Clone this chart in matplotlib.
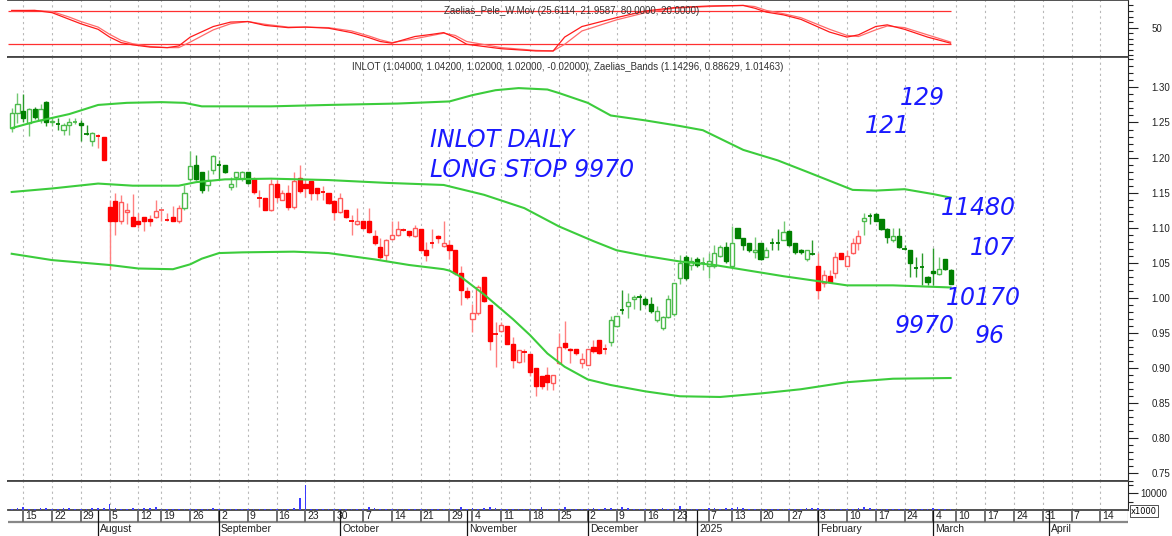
import matplotlib
matplotlib.use("Agg")
import matplotlib.pyplot as plt
from matplotlib.patches import Rectangle
from matplotlib.ticker import FixedLocator, MultipleLocator, FormatStrFormatter
import pandas as pd

plt.rcParams['font.family'] = ['Liberation Sans', 'DejaVu Sans']

# trading days (ATHEX holidays removed), future days are plain weekdays
holidays = ['2024-08-15', '2024-10-28', '2024-12-24', '2024-12-25', '2024-12-26',
            '2025-01-01', '2025-01-06', '2025-03-03']
dates = pd.bdate_range('2024-07-11', '2025-03-07')
dates = dates[~dates.isin(pd.to_datetime(holidays))]
future = pd.bdate_range('2025-03-10', '2025-04-25')
all_days = dates.append(future)

opens = [1.242, 1.264, 1.266, 1.249, 1.269, 1.254, 1.279, 1.250, 1.249, 1.240,
         1.247, 1.250, 1.249, 1.235, 1.223, 1.232, 1.230, 1.130, 1.138, 1.109,
         1.122, 1.116, 1.110, 1.115, 1.113, 1.115, 1.125, 1.112, 1.115, 1.109,
         1.128, 1.170, 1.190, 1.179, 1.161, 1.183, 1.190, 1.189, 1.158, 1.173,
         1.171, 1.179, 1.169, 1.144, 1.142, 1.125, 1.163, 1.140, 1.149, 1.129,
         1.171, 1.163, 1.166, 1.156, 1.152, 1.150, 1.138, 1.122, 1.125, 1.111,
         1.106, 1.109, 1.109, 1.088, 1.072, 1.061, 1.084, 1.090, 1.097, 1.095,
         1.088, 1.098, 1.069, 1.079, 1.088, 1.074, 1.075, 1.069, 1.035, 1.010,
         0.970, 0.978, 1.030, 0.990, 0.950, 0.953, 0.960, 0.935, 0.909, 0.924,
         0.920, 0.900, 0.889, 0.890, 0.879, 0.907, 0.936, 0.928, 0.928, 0.908,
         0.905, 0.930, 0.940, 0.928, 0.938, 0.960, 0.984, 0.989, 0.999, 1.002,
         0.999, 0.991, 0.968, 0.957, 0.973, 0.977, 1.028, 1.058, 1.047, 1.056,
         1.049, 1.045, 1.045, 1.060, 1.072, 1.046, 1.099, 1.085, 1.079, 1.065,
         1.078, 1.059, 1.078, 1.080, 1.083, 1.095, 1.079, 1.069, 1.056, 1.063,
         1.045, 1.022, 1.031, 1.035, 1.064, 1.046, 1.064, 1.079, 1.109, 1.117,
         1.119, 1.112, 1.098, 1.082, 1.088, 1.071, 1.069, 1.044, 1.044, 1.030,
         1.039, 1.034, 1.055, 1.040]
highs = [1.270, 1.292, 1.291, 1.270, 1.272, 1.277, 1.280, 1.258, 1.257, 1.249,
         1.256, 1.256, 1.254, 1.246, 1.237, 1.233, 1.230, 1.139, 1.149, 1.147,
         1.135, 1.148, 1.121, 1.115, 1.118, 1.140, 1.126, 1.121, 1.131, 1.132,
         1.161, 1.209, 1.204, 1.180, 1.182, 1.203, 1.196, 1.190, 1.173, 1.180,
         1.181, 1.180, 1.173, 1.154, 1.142, 1.169, 1.168, 1.154, 1.161, 1.180,
         1.189, 1.170, 1.166, 1.156, 1.159, 1.150, 1.140, 1.149, 1.125, 1.118,
         1.128, 1.109, 1.128, 1.097, 1.086, 1.084, 1.110, 1.110, 1.100, 1.096,
         1.104, 1.098, 1.080, 1.098, 1.090, 1.109, 1.083, 1.069, 1.045, 1.016,
         0.992, 1.019, 1.030, 0.990, 0.966, 0.966, 0.960, 0.945, 0.926, 0.928,
         0.920, 0.900, 0.889, 0.902, 0.890, 0.950, 0.967, 0.929, 0.928, 0.921,
         0.928, 0.940, 0.940, 0.935, 0.974, 0.975, 1.011, 1.007, 1.004, 1.006,
         1.002, 1.002, 0.989, 0.975, 1.004, 1.021, 1.061, 1.061, 1.058, 1.058,
         1.059, 1.064, 1.076, 1.075, 1.080, 1.102, 1.100, 1.086, 1.079, 1.087,
         1.079, 1.073, 1.085, 1.098, 1.109, 1.096, 1.079, 1.070, 1.068, 1.082,
         1.064, 1.040, 1.040, 1.065, 1.064, 1.068, 1.085, 1.097, 1.121, 1.121,
         1.121, 1.113, 1.099, 1.099, 1.099, 1.076, 1.069, 1.059, 1.064, 1.031,
         1.071, 1.059, 1.055, 1.042]
lows = [1.237, 1.249, 1.250, 1.231, 1.255, 1.249, 1.245, 1.245, 1.239, 1.232,
        1.232, 1.248, 1.223, 1.232, 1.216, 1.213, 1.197, 1.042, 1.090, 1.105,
        1.106, 1.102, 1.099, 1.096, 1.103, 1.114, 1.110, 1.110, 1.109, 1.107,
        1.125, 1.166, 1.168, 1.150, 1.152, 1.177, 1.170, 1.178, 1.154, 1.158,
        1.166, 1.163, 1.148, 1.130, 1.125, 1.124, 1.137, 1.139, 1.125, 1.127,
        1.150, 1.144, 1.140, 1.140, 1.140, 1.134, 1.111, 1.121, 1.114, 1.090,
        1.104, 1.098, 1.093, 1.075, 1.055, 1.052, 1.082, 1.088, 1.095, 1.087,
        1.087, 1.067, 1.052, 1.071, 1.078, 1.072, 1.056, 1.033, 0.990, 0.998,
        0.952, 0.976, 0.994, 0.926, 0.902, 0.952, 0.934, 0.900, 0.908, 0.909,
        0.889, 0.861, 0.870, 0.869, 0.869, 0.906, 0.928, 0.907, 0.919, 0.900,
        0.904, 0.922, 0.920, 0.920, 0.932, 0.958, 0.977, 0.971, 0.985, 0.983,
        0.988, 0.978, 0.966, 0.955, 0.971, 0.975, 1.020, 1.026, 1.040, 1.044,
        1.040, 1.028, 1.043, 1.059, 1.050, 1.045, 1.085, 1.068, 1.066, 1.057,
        1.054, 1.058, 1.068, 1.069, 1.082, 1.074, 1.063, 1.062, 1.052, 1.061,
        0.998, 1.016, 1.021, 1.028, 1.055, 1.045, 1.063, 1.069, 1.090, 1.105,
        1.109, 1.097, 1.078, 1.080, 1.071, 1.068, 1.030, 1.030, 1.019, 1.019,
        1.019, 1.033, 1.040, 1.020]
closes = [1.263, 1.276, 1.257, 1.269, 1.258, 1.269, 1.250, 1.252, 1.248, 1.247,
          1.250, 1.251, 1.247, 1.234, 1.235, 1.231, 1.197, 1.109, 1.109, 1.137,
          1.126, 1.103, 1.106, 1.110, 1.109, 1.124, 1.126, 1.111, 1.110, 1.128,
          1.149, 1.188, 1.170, 1.154, 1.168, 1.202, 1.190, 1.180, 1.162, 1.180,
          1.180, 1.164, 1.151, 1.143, 1.125, 1.163, 1.144, 1.149, 1.129, 1.167,
          1.153, 1.156, 1.150, 1.150, 1.151, 1.136, 1.122, 1.143, 1.116, 1.110,
          1.110, 1.099, 1.094, 1.079, 1.058, 1.083, 1.090, 1.098, 1.097, 1.090,
          1.099, 1.069, 1.061, 1.079, 1.085, 1.079, 1.069, 1.035, 1.011, 1.001,
          0.978, 1.015, 0.996, 0.939, 0.949, 0.961, 0.935, 0.911, 0.926, 0.923,
          0.894, 0.875, 0.875, 0.881, 0.890, 0.930, 0.930, 0.926, 0.921, 0.913,
          0.928, 0.924, 0.921, 0.927, 0.968, 0.974, 0.983, 0.994, 1.002, 1.001,
          0.991, 0.981, 0.981, 0.973, 0.998, 1.021, 1.050, 1.029, 1.052, 1.047,
          1.050, 1.052, 1.064, 1.072, 1.052, 1.078, 1.086, 1.076, 1.069, 1.069,
          1.055, 1.069, 1.078, 1.079, 1.094, 1.075, 1.065, 1.065, 1.068, 1.062,
          1.012, 1.033, 1.023, 1.058, 1.056, 1.060, 1.079, 1.088, 1.114, 1.117,
          1.110, 1.098, 1.087, 1.088, 1.072, 1.070, 1.050, 1.043, 1.044, 1.023,
          1.035, 1.041, 1.042, 1.020]
# trend colour of each candle: g = green, r = red
trend = ('g' * 15 + 'r' * 15 + 'g' * 12 + 'r' * 62 + 'g' * 36 + 'r' * 8 + 'g' * 16)

volume = [300, 1200, 1500, 300, 300, 1200, 1300, 300, 300, 1000,
          1100, 300, 300, 300, 1000, 1200, 1300, 3800, 1200, 300,
          300, 1000, 300, 1000, 1300, 1600, 300, 700, 300, 300,
          300, 700, 800, 300, 300, 1300, 300, 300, 300, 300,
          300, 300, 300, 300, 300, 800, 300, 300, 300, 1200,
          7200, 14500, 300, 300, 800, 300, 300, 300, 300, 800,
          300, 300, 1600, 900, 300, 300, 300, 300, 300, 300,
          300, 800, 300, 300, 300, 300, 300, 300, 1700, 300,
          1000, 300, 1400, 1700, 900, 300, 300, 300, 300, 300,
          300, 300, 1800, 300, 300, 300, 1500, 300, 300, 300,
          300, 900, 300, 900, 1000, 300, 1500, 1000, 700, 300,
          300, 300, 300, 900, 800, 300, 2200, 300, 300, 300,
          300, 900, 1000, 300, 1100, 900, 1800, 900, 300, 800,
          300, 300, 300, 300, 800, 300, 300, 300, 1000, 1100,
          1000, 300, 300, 800, 300, 300, 300, 900, 1900, 1000,
          300, 300, 800, 300, 300, 300, 800, 300, 700, 300,
          900, 800, 300, 300]

# Zaelias bands, read at a few candle positions
band_idx = [0, 4, 10, 15, 20, 26, 30, 33, 45, 55, 67, 76, 80, 84, 88, 93, 95,
            100, 104, 110, 116, 120, 127, 133, 138, 146, 150, 155, 160, 163]
band_up = [1.242, 1.251, 1.262, 1.275, 1.278, 1.279, 1.278, 1.273, 1.273, 1.275,
           1.277, 1.280, 1.289, 1.296, 1.299, 1.297, 1.292, 1.278, 1.260, 1.253,
           1.245, 1.239, 1.211, 1.196, 1.180, 1.154, 1.153, 1.155, 1.148, 1.143]
mid_idx = [0, 7, 15, 21, 29, 32, 37, 45, 55, 65, 75, 82, 89, 95, 101, 105, 110,
           116, 122, 134, 140, 145, 153, 163]
band_mid = [1.151, 1.156, 1.163, 1.160, 1.160, 1.165, 1.169, 1.170, 1.168, 1.164,
            1.161, 1.147, 1.128, 1.102, 1.081, 1.068, 1.060, 1.052, 1.047, 1.031,
            1.024, 1.018, 1.018, 1.015]
low_idx = [0, 7, 17, 22, 28, 31, 33, 36, 40, 49, 55, 63, 69, 75, 76, 78, 82, 87,
           90, 93, 96, 100, 104, 110, 116, 123, 130, 137, 145, 153, 163]
band_low = [1.063, 1.054, 1.047, 1.042, 1.041, 1.048, 1.056, 1.064, 1.065, 1.066,
            1.064, 1.055, 1.047, 1.041, 1.039, 1.030, 1.005, 0.970, 0.947, 0.921,
            0.902, 0.884, 0.876, 0.867, 0.860, 0.859, 0.864, 0.870, 0.880, 0.885,
            0.886]

# Zaelias_Pele_W.Mov oscillator
osc_idx = [0, 4, 7, 10, 12, 15, 17, 19, 21, 24, 27, 29, 31, 35, 38, 41, 44, 48,
           51, 55, 59, 62, 64, 66, 70, 73, 75, 77, 79, 85, 91, 94, 96, 99, 105,
           110, 115, 121, 127, 129, 131, 134, 137, 142, 145, 147, 150, 152, 155,
           159, 163]
osc_fast = [81, 81, 77, 65, 57, 47, 33, 23, 19, 15, 14, 17, 33, 52, 60, 61, 54, 50,
            51, 49, 41, 32, 25, 22, 34, 38, 41, 32, 20, 12, 8, 8, 33, 52, 68,
            80, 86, 89, 90, 85, 78, 73, 65, 42, 33, 37, 52, 55, 47,
            33, 22]
osc_slow = [80, 81, 79, 69, 61, 51, 38, 27, 21, 16, 14, 14, 24, 46, 57, 61, 56, 51,
            51, 50, 44, 35, 28, 23, 30, 36, 40, 36, 25, 14, 9, 8, 20, 44, 64,
            77, 85, 88, 90, 88, 81, 75, 68, 47, 36, 34, 46, 53, 50,
            37, 24]

W, H = 1172, 536
fig = plt.figure(figsize=(W / 100, H / 100), dpi=100)


def panel(top, bottom):
    return fig.add_axes([8 / W, 1 - bottom / H, 1120 / W, (bottom - top) / H])


x_lo, x_hi = (8 - 11.7) / 5.76, (1128 - 11.7) / 5.76

ax_o = panel(0, 57)
ax = panel(57, 481)
ax_v = panel(481, 510)
ax_d = panel(510, 536)

pos = list(range(len(all_days)))
n = len(opens)
week_pos = [i for i in pos if i > 0 and
            all_days[i].isocalendar()[1] != all_days[i - 1].isocalendar()[1]]
month_pos = [i for i in pos if i > 0 and all_days[i].month != all_days[i - 1].month]

for a in (ax_o, ax, ax_v):
    a.set_xlim(x_lo, x_hi)
    a.set_xticks([])
    a.spines['left'].set_visible(False)
    for s in ('top', 'bottom'):
        a.spines[s].set_color('#444444')
        a.spines[s].set_linewidth(1.3)
    a.spines['right'].set_color('#222222')
    a.yaxis.tick_right()
    a.tick_params(axis='y', which='major', length=7, width=0.8, labelsize=7,
                  colors='#222222', pad=10)
    a.tick_params(axis='y', which='minor', length=3.5, width=0.8, colors='#222222')
    for p in week_pos:
        a.axvline(p, color='#b8b8b8', lw=0.8, ls=(0, (2, 3)), zorder=0)

# oscillator panel
ax_o.set_ylim(-2.9, 99.8)
ax_o.hlines([80, 20], x_lo, n - 1, color='#ff3030', lw=0.9)
ax_o.plot(osc_idx, osc_slow, color='#ff6a6a', lw=0.9)
ax_o.plot(osc_idx, osc_fast, color='#ff1a1a', lw=0.9)
ax_o.yaxis.set_major_locator(FixedLocator([50]))
ax_o.yaxis.set_minor_locator(MultipleLocator(10))
ax_o.text(0.503, 80, 'Zaelias_Pele_W.Mov (25.6114, 21.9587, 80.0000, 20.0000)',
          transform=ax_o.get_yaxis_transform(), ha='center', va='center',
          fontsize=7, color='#333333')

# main candle panel
ax.set_ylim(0.7393, 1.3433)
ax.yaxis.set_major_locator(MultipleLocator(0.05))
ax.yaxis.set_minor_locator(MultipleLocator(0.01))
ax.yaxis.set_major_formatter(FormatStrFormatter('%.2f'))

ax.plot(band_idx, band_up, color='#3ccc3c', lw=1.5, zorder=4)
ax.plot(mid_idx, band_mid, color='#3ccc3c', lw=1.5, zorder=4)
ax.plot(low_idx, band_low, color='#3ccc3c', lw=1.5, zorder=4)

for i in range(n):
    o, h, l, c = opens[i], highs[i], lows[i], closes[i]
    hollow = c > o
    if trend[i] == 'g':
        strong, light = '#008000', '#4cbb4c'
        wick = '#72c872' if hollow else '#2a9a2a'
    else:
        strong, light = '#ff0000', '#ff5a5a'
        wick = '#ff8080'
    col = light if hollow else strong
    ax.vlines(i, l, h, color=wick, lw=1.0, zorder=2)
    lo_b, hi_b = min(o, c), max(o, c)
    if hi_b - lo_b < 0.0012:
        ax.hlines(c, i - 0.38, i + 0.38, color=col, lw=1.3, zorder=3)
    else:
        ax.add_patch(Rectangle((i - 0.36, lo_b), 0.72, hi_b - lo_b,
                               facecolor='white' if hollow else strong,
                               edgecolor=col, lw=1.0, zorder=3))

ax.text(0.5, 1.0 - 10 / 424, 'INLOT (1.04000, 1.04200, 1.02000, 1.02000, -0.02000), '
        'Zaelias_Bands (1.14296, 0.88629, 1.01463)', transform=ax.transAxes,
        ha='center', va='center', fontsize=7, color='#333333')

# volume panel
ax_v.set_ylim(0, 17060)
ax_v.bar(range(n), volume, width=0.3, color='#3b3bff', zorder=3)
ax_v.yaxis.set_major_locator(FixedLocator([10000]))
ax_v.yaxis.set_minor_locator(FixedLocator([5000, 15000]))
ax_v.yaxis.set_major_formatter(FormatStrFormatter('%d'))
ax_v.tick_params(axis='y', which='major', pad=2)

# date axis
ax_d.set_xlim(x_lo, x_hi)
ax_d.set_ylim(0, 26)
ax_d.axis('off')
ax_d.axhline(14, color='#888888', lw=1.6)
ax_d.axvline(x_hi, ymin=14 / 26, ymax=1, color='#444444', lw=0.8)
month_names = {1: '2025', 2: 'February', 3: 'March', 4: 'April', 8: 'August',
               9: 'September', 10: 'October', 11: 'November', 12: 'December'}
prev = -10
for p in week_pos:
    if p > x_hi:
        continue
    ax_d.vlines(p, 14, 26, color='#666666', lw=1.3)
    if p - prev >= 4:
        ax_d.text(p + 0.35, 20, str(all_days[p].day), ha='left', va='center',
                  fontsize=7.5, color='#222222')
    prev = p
for p in month_pos:
    ax_d.vlines(p, 0, 26, color='#111111', lw=0.9)
    ax_d.text(p + 0.35, 6.5, month_names[all_days[p].month], ha='left',
              va='center', fontsize=7.5, color='#222222')

fig.text(1131 / W, 1 - 511 / H, 'x1000', fontsize=6, ha='left', va='center',
         family='DejaVu Sans',
         bbox=dict(facecolor='white', edgecolor='#333333', lw=0.6, pad=0.8))

# hand-written notes
notes = [('INLOT DAILY', 430, 140, 'left'), ('LONG STOP 9970', 430, 170, 'left'),
         ('129', 922, 98, 'center'), ('121', 887, 126, 'center'),
         ('11480', 978, 208, 'center'), ('107', 992, 248, 'center'),
         ('10170', 983, 298, 'center'), ('9970', 925, 326, 'center'),
         ('96', 990, 336, 'center')]
for txt, x, y, ha in notes:
    fig.text(x / W, 1 - y / H, txt, family='DejaVu Sans', style='italic',
             fontsize=17, color='#1a1aff', ha=ha, va='center')

fig.savefig('out.png', dpi=100)
